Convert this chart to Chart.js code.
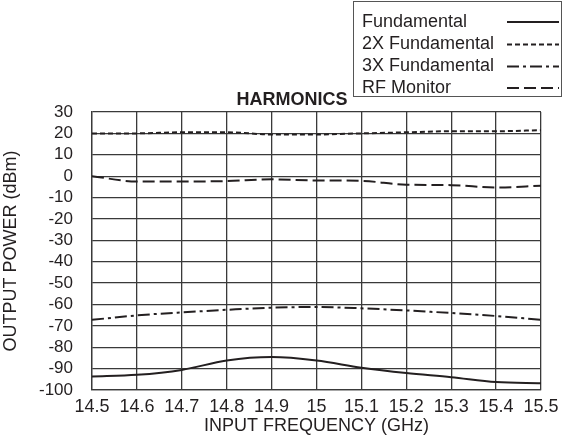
<!DOCTYPE html>
<html>
<head>
<meta charset="utf-8">
<script src="https://cdn.jsdelivr.net/npm/chart.js@4/dist/chart.umd.min.js"></script>
<style>
  html,body{margin:0;padding:0;background:#fff;}
  #wrap{width:575px;height:437px;position:relative;}
</style>
</head>
<body>
<div id="wrap"><canvas id="c" width="575" height="437"></canvas></div>
<script>
// ---- data ----
const frequencies = [14.5, 14.6, 14.7, 14.8, 14.9, 15.0, 15.1, 15.2, 15.3, 15.4, 15.5];
const fundamental = [-93.7, -92.9, -90.6, -86.2, -84.6, -86.2, -89.6, -92.1, -94.0, -96.3, -96.8];
const secondHarmonic = [20, 20, 20.5, 20.5, 19.5, 19.5, 20, 20.5, 21, 21, 21.5];
const thirdHarmonic = [-67.2, -65.1, -63.7, -62.5, -61.5, -61.2, -61.8, -62.8, -64.0, -65.4, -67.2];
const rfMonitor = [0, -2.5, -2.5, -2.3, -1.5, -2.0, -2.2, -4.0, -4.2, -5.3, -4.5];
const seriesNames = ['Fundamental', '2X Fundamental', '3X Fundamental', 'RF Monitor'];
const yTicks = [-100, -90, -80, -70, -60, -50, -40, -30, -20, -10, 0, 10, 20, 30];
const chartTitle = 'HARMONICS';
const xTitle = 'INPUT FREQUENCY (GHz)';
const yTitle = 'OUTPUT POWER (dBm)';

const INK = '#231f20';
const GRID = '#3a3a3a';
const dashes = [[], [5, 3], [12, 4, 3, 4], [12, 5]];
const seriesValues = [fundamental, secondHarmonic, thirdHarmonic, rfMonitor];

const datasets = seriesValues.map((vals, i) => ({
  label: seriesNames[i],
  data: frequencies.map((f, k) => ({x: f, y: vals[k]})),
  borderColor: INK,
  borderWidth: 2,
  borderDash: dashes[i],
  pointRadius: 0,
  fill: false,
  cubicInterpolationMode: 'monotone'
}));

const overlay = {
  id: 'overlay',
  afterDraw(chart) {
    const ctx = chart.ctx;
    ctx.save();
    // title
    ctx.fillStyle = INK;
    ctx.font = 'bold 18px "Liberation Sans Narrow", "Arial Narrow", Arial, sans-serif';
    ctx.textAlign = 'center';
    ctx.textBaseline = 'middle';
    ctx.fillText(chartTitle, 292, 100);
    // legend box
    const bx = 353.5, by = 1.5, bw = 208, bh = 95;
    ctx.fillStyle = '#fff';
    ctx.fillRect(bx, by, bw, bh);
    ctx.strokeStyle = '#555';
    ctx.lineWidth = 1;
    ctx.setLineDash([]);
    ctx.strokeRect(bx, by, bw, bh);
    ctx.font = '18px "Liberation Sans", Arial, sans-serif';
    ctx.textAlign = 'left';
    ctx.textBaseline = 'middle';
    const rows = [22, 44.5, 66.5, 88];
    seriesNames.forEach((name, i) => {
      ctx.fillStyle = INK;
      ctx.fillText(name, 362, rows[i]);
      ctx.beginPath();
      ctx.setLineDash(dashes[i]);
      ctx.lineWidth = 2;
      ctx.strokeStyle = INK;
      ctx.moveTo(507, rows[i]);
      ctx.lineTo(559, rows[i]);
      ctx.stroke();
    });
    ctx.restore();
  }
};

new Chart(document.getElementById('c'), {
  type: 'line',
  data: { datasets },
  options: {
    responsive: false,
    animation: false,
    devicePixelRatio: 1,
    layout: { padding: { top: 112, right: 34, left: 0, bottom: 0 } },
    plugins: { legend: { display: false }, title: { display: false }, tooltip: { enabled: false } },
    scales: {
      x: {
        type: 'linear',
        min: 14.5, max: 15.5,
        afterBuildTicks(axis) { axis.ticks = frequencies.map(v => ({value: v})); },
        afterFit(axis) { axis.height = 47; },
        ticks: {
          color: INK,
          font: { family: '"Liberation Sans", Arial, sans-serif', size: 18 },
          padding: 6,
          maxRotation: 0,
          autoSkip: false,
          callback: v => String(Number(v.toFixed(1)))
        },
        grid: { color: GRID, lineWidth: 1.3, drawTicks: false },
        border: { color: GRID, width: 1.3 },
        title: {
          display: true, text: xTitle, color: INK,
          font: { family: '"Liberation Sans", Arial, sans-serif', size: 18 },
          padding: { top: 0, bottom: 0 }
        }
      },
      y: {
        type: 'linear',
        min: -100, max: 30,
        afterBuildTicks(axis) { axis.ticks = yTicks.map(v => ({value: v})); },
        afterFit(axis) { axis.width = 92; },
        ticks: {
          color: INK,
          font: { family: '"Liberation Sans", Arial, sans-serif', size: 17 },
          padding: 19,
          autoSkip: false
        },
        grid: { color: GRID, lineWidth: 1.3, drawTicks: false },
        border: { color: GRID, width: 1.3 },
        title: {
          display: true, text: yTitle, color: INK,
          font: { family: '"Liberation Sans", Arial, sans-serif', size: 18 },
          padding: { top: 0, bottom: 0 }
        }
      }
    }
  },
  plugins: [overlay]
});
</script>
</body>
</html>
